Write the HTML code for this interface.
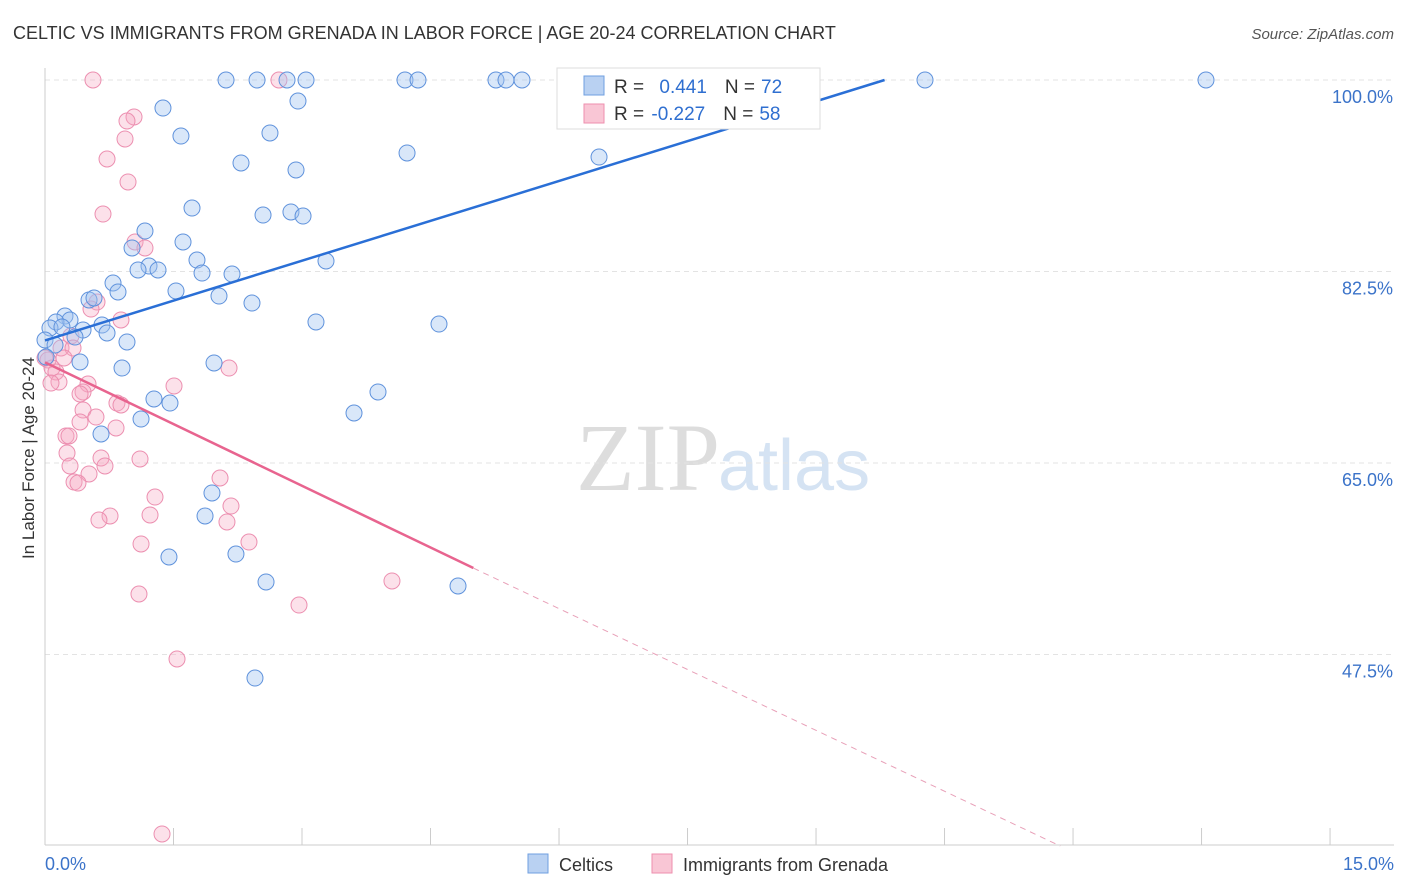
<!DOCTYPE html>
<html><head><meta charset="utf-8"><style>
body{margin:0;background:#fff;font-family:"Liberation Sans",sans-serif}
svg{display:block}
</style></head><body>
<svg width="1406" height="892" id="chart">
<text x="13" y="39" font-size="18" fill="#333">CELTIC VS IMMIGRANTS FROM GRENADA IN LABOR FORCE | AGE 20-24 CORRELATION CHART</text>
<text x="1394" y="39" font-size="15" fill="#555" font-style="italic" text-anchor="end">Source: ZipAtlas.com</text>
<text x="720" y="490" font-size="96" fill="#ddd" text-anchor="end" font-family="Liberation Serif">ZIP</text>
<text x="718" y="490" font-size="72" fill="#d5e3f3">atlas</text>
<g id="grid"></g>
<g id="axes"></g>
<g id="pts"></g>
<g id="lines"></g>
<text x="34" y="458" font-size="17" fill="#333" text-anchor="middle" transform="rotate(-90 34 458)">In Labor Force | Age 20-24</text>
<text x="45" y="870" font-size="18" fill="#3b73c9">0.0%</text>
<text x="1394" y="870" font-size="18" fill="#3b73c9" text-anchor="end">15.0%</text>
<g>
<rect x="557" y="68" width="263" height="61" fill="#fff" stroke="#ddd"/>
<rect x="584" y="76" width="20" height="19" fill="#b9d1f2" stroke="#6f9fe0"/>
<rect x="584" y="104" width="20" height="19" fill="#f9c6d5" stroke="#ee8fae"/>
<text x="614" y="93" font-size="19" fill="#333">R = <tspan fill="#2f6fd0" dx="10">0.441</tspan><tspan dx="18" fill="#333">N =</tspan><tspan dx="6" fill="#2f6fd0">72</tspan></text>
<text x="614" y="120" font-size="19" fill="#333">R = <tspan fill="#2f6fd0" dx="2">-0.227</tspan><tspan dx="18" fill="#333">N =</tspan><tspan dx="6" fill="#2f6fd0">58</tspan></text>
</g>
<g>
<rect x="528" y="854" width="20" height="19" fill="#b9d1f2" stroke="#6f9fe0"/>
<text x="559" y="871" font-size="18" fill="#333">Celtics</text>
<rect x="652" y="854" width="20" height="19" fill="#f9c6d5" stroke="#ee8fae"/>
<text x="683" y="871" font-size="18" fill="#333">Immigrants from Grenada</text>
</g>
</svg>
<script>
const yTicks=[100,82.5,65,47.5];
const xTicks=[0,1.5,3,4.5,6,7.5,9,10.5,12,13.5,15];
const bluePx=[[226,80],[257,80],[287,80],[306,80],[405,80],[418,80],[496,80],[506,80],[522,80],[925,80],[1206,80],[163,108],[298,101],[181,136],[270,133],[407,153],[599,157],[241,163],[296,170],[192,208],[263,215],[291,212],[303,216],[145,231],[132,248],[183,242],[197,260],[149,266],[158,270],[138,270],[202,273],[232,274],[326,261],[113,283],[118,292],[176,291],[219,296],[252,303],[89,300],[94,298],[65,316],[70,320],[56,322],[50,328],[62,327],[83,330],[102,325],[107,333],[127,342],[75,337],[316,322],[439,324],[45,340],[80,362],[122,368],[214,363],[378,392],[354,413],[154,399],[170,403],[141,419],[101,434],[212,493],[205,516],[169,557],[236,554],[266,582],[458,586],[255,678],[55,345],[46,357]];
const pinkPx=[[93,80],[279,80],[134,117],[127,121],[125,139],[107,159],[128,182],[103,214],[135,242],[145,248],[97,302],[91,309],[121,320],[71,336],[61,348],[73,348],[64,358],[48,360],[52,368],[56,372],[59,382],[51,383],[88,384],[174,386],[229,368],[83,392],[80,394],[117,403],[121,405],[83,410],[96,417],[80,422],[116,428],[66,436],[69,436],[67,453],[140,459],[101,458],[105,466],[70,466],[89,474],[220,478],[74,482],[78,483],[155,497],[231,506],[110,516],[99,520],[150,515],[227,522],[249,542],[141,544],[392,581],[299,605],[139,594],[177,659],[162,834],[45,358]];
// data values derived from reading the picture
const blueX=bluePx.map(p=>+((p[0]-45)/85.67).toFixed(3));
const blueY=bluePx.map(p=>+(100-(p[1]-80)/10.943).toFixed(2));
const pinkX=pinkPx.map(p=>+((p[0]-45)/85.67).toFixed(3));
const pinkY=pinkPx.map(p=>+(100-(p[1]-80)/10.943).toFixed(2));
const blueTrend=[[0,76.2],[9.8,100]];
const pinkTrend=[[0,74.2],[5,55.4],[11.85,30]];
const sx=v=>45+v*85.67, sy=v=>80+(100-v)*10.943;
const NS="http://www.w3.org/2000/svg";
function mk(t,a,parent){const e=document.createElementNS(NS,t);for(const k in a)e.setAttribute(k,a[k]);document.getElementById(parent).appendChild(e);return e;}
yTicks.forEach(v=>{
 const l=mk('line',{x1:45,x2:1394,y1:sy(v),y2:sy(v),stroke:'#e3e3e3','stroke-dasharray':'5,4'},'grid');
 
 
 const t=mk('text',{x:1393,y:sy(v)+23,'font-size':18,fill:'#3b73c9','text-anchor':'end'},'grid');
 t.textContent=v.toFixed(1)+'%';
 
 
});
const ax=mk('line',{x1:45,x2:45,y1:68,y2:845,stroke:'#ccc'},'axes');


const bx=mk('line',{x1:45,x2:1394,y1:845,y2:845,stroke:'#ccc'},'axes');


xTicks.forEach(v=>{
 const t=mk('line',{x1:sx(v),x2:sx(v),y1:828,y2:845,stroke:'#ccc'},'axes');
 
 
});
pinkX.forEach((x,i)=>{
 const c=mk('circle',{cx:sx(x),cy:sy(pinkY[i]),r:8,fill:'rgba(246,170,195,0.35)',stroke:'#ec8fb0','stroke-width':1},'pts');
 
 
});
blueX.forEach((x,i)=>{
 const c=mk('circle',{cx:sx(x),cy:sy(blueY[i]),r:8,fill:'rgba(160,195,240,0.4)',stroke:'#5f92dc','stroke-width':1},'pts');
 
 
});
const bl=mk('line',{x1:sx(blueTrend[0][0]),y1:sy(blueTrend[0][1]),x2:sx(blueTrend[1][0]),y2:sy(blueTrend[1][1]),stroke:'#2a6fd6','stroke-width':2.5},'lines');


const pl=mk('line',{x1:sx(pinkTrend[0][0]),y1:sy(pinkTrend[0][1]),x2:sx(pinkTrend[1][0]),y2:sy(pinkTrend[1][1]),stroke:'#e8648f','stroke-width':2.5},'lines');


const pd=mk('line',{x1:sx(pinkTrend[1][0]),y1:sy(pinkTrend[1][1]),x2:sx(pinkTrend[2][0]),y2:sy(pinkTrend[2][1]),stroke:'#e8a0b8','stroke-width':1,'stroke-dasharray':'6,5'},'lines');


</script>
</body></html>
